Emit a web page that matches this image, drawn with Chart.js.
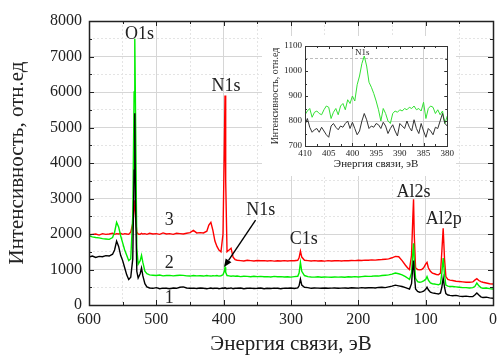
<!DOCTYPE html>
<html><head><meta charset="utf-8">
<script src="https://cdn.jsdelivr.net/npm/chart.js@4"></script>
<style>
html,body{margin:0;padding:0;background:#fff;}
#wrap{position:relative;width:502px;height:360px;overflow:hidden;}
#main{position:absolute;left:0;top:0;}
#inset{position:absolute;left:262px;top:36px;}
</style></head><body>
<div id="wrap"><canvas id="main" width="502" height="360"></canvas><canvas id="inset" width="194" height="140"></canvas></div>
<script>
// ---- main spectrum data (binding energy, eV) ----
const energy = [
600,595,590,585,580,575,570,565,562,559,
556,553,550,547,544,541,538,535,533,532,
531,529,527,524,522,520,517,514,510,505,
500,495,490,485,480,475,470,465,460,455,
450,445,440,435,430,425,422,419,416,413,
410,407,404,401,399,398,397,395,392,389,
386,383,380,375,370,365,360,355,350,345,
340,335,330,325,320,315,310,305,300,295,
290,288,286,284,280,275,270,265,260,255,
250,245,240,235,230,225,220,215,210,205,
200,195,190,185,180,175,170,165,160,155,
150,145,140,135,130,127,124,121,119,118,
117,115,112,109,106,103,100,98,96,93,
90,87,84,81,78,76,74,72,70,67,
64,60,55,50,45,40,35,30,27,24,
21,18,15,10,5,0];
const curve1 = [
1350,1380,1340,1370,1360,1390,1380,1430,1550,1800,
1650,1400,1250,1050,850,720,780,1300,3800,5400,
3000,950,760,880,1040,820,600,510,480,470,
490,460,475,470,460,480,470,500,510,480,
470,475,465,480,470,460,470,480,465,470,
475,460,470,480,470,490,475,465,470,480,
460,470,470,480,460,470,475,465,470,480,
460,470,465,475,470,460,475,470,480,465,
480,540,730,560,500,490,470,480,475,470,
480,470,475,480,470,475,480,470,485,480,
475,490,480,485,490,480,495,500,490,510,
530,560,540,520,490,470,450,600,1100,1250,
900,450,380,360,370,390,440,500,430,360,
340,330,320,310,340,500,760,500,320,280,
270,260,270,250,240,250,235,240,280,340,
280,230,210,220,200,190];
const curve2 = [
1950,1920,1900,1890,1870,1860,1850,1900,2050,2330,
2200,1950,1750,1550,1400,1250,1300,2500,6000,7500,
5600,1600,1150,1250,1400,1200,950,880,850,840,
830,845,820,830,835,820,830,840,835,820,
815,830,820,825,815,830,820,815,825,820,
830,815,825,850,950,1060,920,830,820,810,
820,810,815,800,810,805,795,810,800,805,
795,800,790,805,795,800,790,795,785,800,
810,900,1200,950,830,800,790,785,795,780,
790,785,780,790,785,790,780,795,790,800,
790,800,810,805,810,820,815,830,840,850,
870,900,880,850,800,760,720,900,1500,1740,
1300,750,660,640,650,680,720,800,700,620,
600,590,580,570,600,900,1320,850,560,530,
520,520,510,500,490,490,480,490,520,620,
540,490,470,480,460,450];
const curve3 = [
1980,1990,2000,1970,2010,1990,2000,2020,1990,2010,
2000,2020,1990,2010,2000,1990,2050,2300,2800,2950,
2500,2050,2000,1990,2020,2000,2010,1990,2020,2000,
2010,1990,2030,2000,2010,1990,2020,2010,2000,2020,
2040,2100,2030,2040,2030,2080,2250,2330,2100,1800,
1650,1550,1500,2000,4500,5900,3500,1500,1550,1600,
1350,1280,1260,1250,1240,1260,1250,1240,1255,1245,
1250,1240,1250,1235,1245,1240,1250,1240,1250,1245,
1260,1330,1520,1350,1260,1250,1240,1250,1240,1245,
1235,1250,1240,1245,1250,1240,1250,1245,1255,1250,
1260,1255,1265,1260,1270,1265,1275,1280,1290,1300,
1330,1370,1360,1250,1120,1050,1000,1400,2500,2980,
2000,1050,1000,990,1000,1050,1150,1200,1050,950,
900,880,860,850,900,1500,2160,1300,800,720,
700,690,670,660,650,640,640,650,700,740,
690,660,640,620,600,590];

// ---- inset (N1s region) ----
const insetEnergy = [
410,409.5,409,408.5,408,407.5,407,406.5,406,405.5,
405,404.5,404,403.5,403,402.5,402,401.5,401,400.5,
400,399.5,399,398.5,398,397.5,397,396.5,396,395.5,
395,394.5,394,393.5,393,392.5,392,391.5,391,390.5,
390,389.5,389,388.5,388,387.5,387,386.5,386,385.5,
385,384.5,384,383.5,383,382.5,382,381.5,381,380.5,380];
const insetGreen = [
825,840,850,815,835,840,830,825,845,860,
855,810,835,850,825,860,870,845,885,870,
900,880,945,980,1030,1060,1020,955,935,910,
880,845,800,850,830,800,790,830,840,835,
845,840,850,845,855,850,860,845,850,840,
875,810,850,860,855,830,845,825,840,790,820];
const insetBlack = [
785,810,775,755,765,770,755,775,760,745,
735,780,790,775,765,780,775,790,800,770,
795,770,745,760,800,830,805,770,780,775,
790,785,770,795,780,750,770,785,760,740,
790,780,770,800,775,760,805,770,750,790,
760,735,770,760,745,775,770,800,830,790,780];

// ---- text annotations (data coordinates) ----
const annText = ['O1s','N1s','3','2','1','N1s','C1s','Al2s','Al2p'];
const annX = [525, 396.5, 481, 481, 481, 345, 281, 118, 73];
const annY = [7640, 6150, 2390, 1180, 200, 2670, 1850, 3170, 2415];
const arrowFrom = [352.6, 2390];
const arrowTo = [399.4, 1070];
const insetAnnText = ['N1s'];
const insetAnnX = [397.9];
const insetAnnY = [1072];

const SERIF = "'Liberation Serif','Times New Roman',serif";
const toXY = (xs, ys) => xs.map((x, i) => ({x: x, y: ys[i]}));
const isMul = (v, m) => Math.abs(v / m - Math.round(v / m)) < 1e-6;

const frameTicks = {
  id: 'frameTicks',
  afterDatasetsDraw(chart, args, o) {
    const {ctx, chartArea: a, scales: {x, y}} = chart;
    ctx.save();
    ctx.strokeStyle = o.color;
    ctx.lineWidth = 1;
    const line = (x1, y1, x2, y2) => { ctx.beginPath(); ctx.moveTo(x1, y1); ctx.lineTo(x2, y2); ctx.stroke(); };
    for (let v = x.min; v <= x.max + 1e-9; v += o.xMinor) {
      const L = isMul(v, o.xMajor) ? o.major : o.minor;
      const p = Math.round(x.getPixelForValue(v)) + 0.5;
      line(p, a.bottom, p, a.bottom - L);
      line(p, a.top, p, a.top + L);
    }
    for (let v = y.min; v <= y.max + 1e-9; v += o.yMinor) {
      const L = isMul(v, o.yMajor) ? o.major : o.minor;
      const p = Math.round(y.getPixelForValue(v)) + 0.5;
      line(a.left, p, a.left + L, p);
      line(a.right, p, a.right - L, p);
    }
    ctx.lineWidth = o.frameWidth;
    ctx.strokeRect(Math.round(a.left) + 0.5, Math.round(a.top) + 0.5, Math.round(a.right - a.left), Math.round(a.bottom - a.top));
    // text labels
    if (o.texts) {
      ctx.fillStyle = o.textColor;
      ctx.font = o.textFont;
      ctx.textAlign = 'center';
      ctx.textBaseline = 'middle';
      o.texts.forEach((t, i) => ctx.fillText(t, x.getPixelForValue(o.tx[i]), y.getPixelForValue(o.ty[i])));
    }
    if (o.arrow) {
      const x1 = x.getPixelForValue(o.arrow[0][0]), y1 = y.getPixelForValue(o.arrow[0][1]);
      const x2 = x.getPixelForValue(o.arrow[1][0]), y2 = y.getPixelForValue(o.arrow[1][1]);
      ctx.strokeStyle = '#000'; ctx.fillStyle = '#000'; ctx.lineWidth = 1.4;
      const ang = Math.atan2(y2 - y1, x2 - x1);
      const hx = x2 - 8 * Math.cos(ang), hy = y2 - 8 * Math.sin(ang);
      line(x1, y1, hx, hy);
      ctx.beginPath();
      ctx.moveTo(x2, y2);
      ctx.lineTo(hx + 3.5 * Math.sin(ang), hy - 3.5 * Math.cos(ang));
      ctx.lineTo(hx - 3.5 * Math.sin(ang), hy + 3.5 * Math.cos(ang));
      ctx.closePath(); ctx.fill();
    }
    ctx.restore();
  }
};
const whiteBg = {
  id: 'whiteBg',
  beforeDraw(chart, args, o) {
    if (!o.on) return;
    const c = chart.ctx; c.save(); c.fillStyle = '#fff'; c.fillRect(0, 0, chart.width, chart.height); c.restore();
  }
};
Chart.register(frameTicks, whiteBg);

new Chart(document.getElementById('main'), {
  type: 'line',
  data: {
    datasets: [
      {data: toXY(energy, curve1), borderColor: '#000000'},
      {data: toXY(energy, curve2), borderColor: '#00ee00'},
      {data: toXY(energy, curve3), borderColor: '#ff0000'}
    ]
  },
  options: {
    responsive: false, animation: false, devicePixelRatio: 1,
    layout: {padding: {top: 21, right: 4, left: 0, bottom: 0}},
    elements: {point: {radius: 0}, line: {tension: 0, borderWidth: 1.4}},
    plugins: {
      legend: {display: false}, tooltip: {enabled: false},
      whiteBg: {on: true},
      frameTicks: {color: '#222', frameWidth: 1.5, major: 5, minor: 3, xMajor: 100, xMinor: 50, yMajor: 1000, yMinor: 500,
        texts: annText, tx: annX, ty: annY, textColor: '#222', textFont: "18px " + SERIF,
        arrow: [arrowFrom, arrowTo]}
    },
    scales: {
      x: {
        type: 'linear', reverse: true, min: 0, max: 600,
        afterFit(s) { s.height = 55; },
        ticks: {stepSize: 50, autoSkip: false, maxRotation: 0, padding: 5, color: '#222',
          font: {family: SERIF, size: 16}, callback: v => isMul(v, 100) ? String(v) : ''},
        grid: {drawTicks: false, lineWidth: 1, color: c => isMul(c.tick.value, 100) ? '#d6d6d6' : '#e4e4e4'},
        border: {display: false, dash: c => (c.tick && isMul(c.tick.value, 100)) ? [] : [2, 2]},
        title: {display: true, text: 'Энергия связи, эВ', color: '#222', font: {family: SERIF, size: 21}, padding: {top: 0, bottom: 3}}
      },
      y: {
        min: 0, max: 8000,
        afterFit(s) { s.width = 89; },
        ticks: {stepSize: 500, autoSkip: false, padding: 7, color: '#222',
          font: {family: SERIF, size: 16}, callback: v => isMul(v, 1000) ? String(v) : ''},
        grid: {drawTicks: false, lineWidth: 1, color: c => isMul(c.tick.value, 1000) ? '#d6d6d6' : '#e4e4e4'},
        border: {display: false, dash: c => (c.tick && isMul(c.tick.value, 1000)) ? [] : [2, 2]},
        title: {display: true, text: 'Интенсивность, отн.ед', color: '#222', font: {family: SERIF, size: 21}, padding: {top: 5, bottom: 0}}
      }
    }
  }
});

new Chart(document.getElementById('inset'), {
  type: 'line',
  data: {
    datasets: [
      {data: toXY(insetEnergy, insetBlack), borderColor: '#333333'},
      {data: toXY(insetEnergy, insetGreen), borderColor: '#33e033'}
    ]
  },
  options: {
    responsive: false, animation: false, devicePixelRatio: 1,
    layout: {padding: {top: 10, right: 7, left: 0, bottom: 0}},
    elements: {point: {radius: 0}, line: {tension: 0, borderWidth: 1}},
    plugins: {
      legend: {display: false}, tooltip: {enabled: false},
      whiteBg: {on: true},
      frameTicks: {color: '#333', frameWidth: 1, major: 3, minor: 2, xMajor: 5, xMinor: 2.5, yMajor: 100, yMinor: 50,
        texts: insetAnnText, tx: insetAnnX, ty: insetAnnY, textColor: '#222', textFont: "9px " + SERIF}
    },
    scales: {
      x: {
        type: 'linear', reverse: true, min: 380, max: 410,
        afterFit(s) { s.height = 30; },
        ticks: {stepSize: 2.5, autoSkip: false, maxRotation: 0, padding: 2, color: '#222',
          font: {family: SERIF, size: 9}, callback: v => isMul(v, 5) ? String(v) : ''},
        grid: {drawTicks: false, lineWidth: 1, color: c => (c.tick.value === 400 || c.tick.value === 385) ? '#d0d0d0' : 'rgba(0,0,0,0)'},
        border: {display: false},
        title: {display: true, text: 'Энергия связи, эВ', color: '#222', font: {family: SERIF, size: 11}, padding: {top: 0, bottom: 5}}
      },
      y: {
        min: 700, max: 1100,
        afterFit(s) { s.width = 43; },
        ticks: {stepSize: 50, autoSkip: false, padding: 3, color: '#222',
          font: {family: SERIF, size: 9}, callback: v => isMul(v, 100) ? String(v) : ''},
        grid: {drawTicks: false, lineWidth: 1, color: c => c.tick.value === 800 ? '#d0d0d0' : (c.tick.value === 1050 ? '#bdbdbd' : 'rgba(0,0,0,0)')},
        border: {display: false, dash: c => (c.tick && c.tick.value === 1050) ? [3, 2] : []},
        title: {display: true, text: 'Интенсивность, отн.ед', color: '#222', font: {family: SERIF, size: 10}, padding: {top: 7, bottom: 0}}
      }
    }
  }
});
</script>
</body></html>
